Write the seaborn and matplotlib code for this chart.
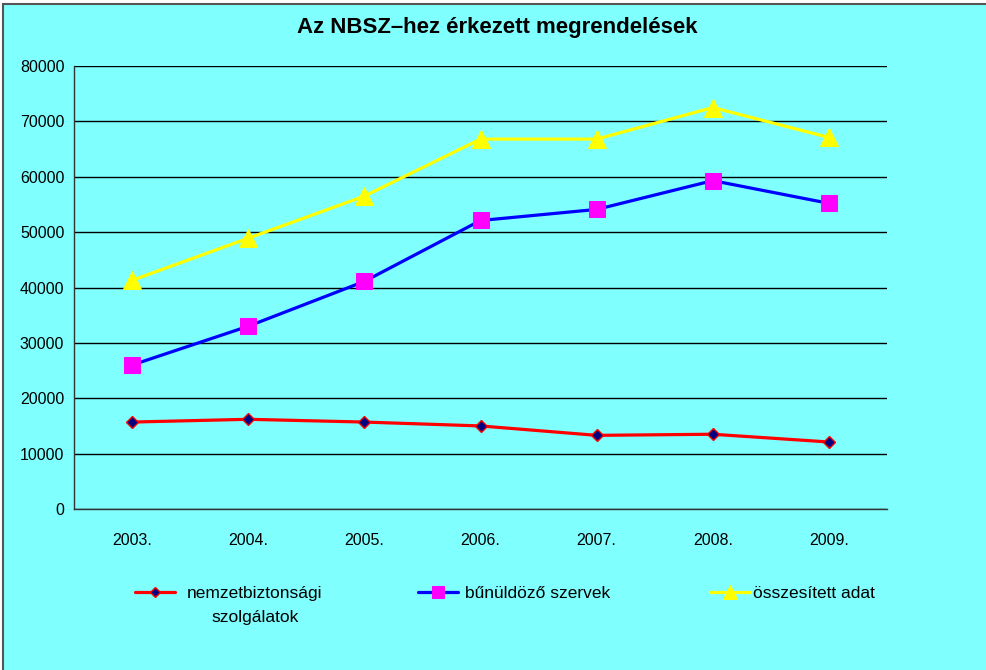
import pandas as pd
import seaborn as sns
import matplotlib.pyplot as plt
from matplotlib.patches import Rectangle

years = ['2003.', '2004.', '2005.', '2006.', '2007.', '2008.', '2009.']
nemzetbiztonsagi = [15700, 16200, 15700, 15000, 13300, 13500, 12100]
bunuldozo = [26000, 33000, 41100, 52100, 54100, 59300, 55200]
osszesitett = [41300, 48900, 56500, 66800, 66800, 72500, 67100]

series_names = ['nemzetbiztonsági', 'bűnüldöző szervek', 'összesített adat']

df = pd.DataFrame({
    'ev': years * 3,
    'ertek': nemzetbiztonsagi + bunuldozo + osszesitett,
    'sorozat': [series_names[0]] * 7 + [series_names[1]] * 7 + [series_names[2]] * 7,
})

sns.set_style('white')
plt.rcParams['font.family'] = ['Liberation Sans', 'DejaVu Sans']
plt.rcParams['text.color'] = 'black'
plt.rcParams['xtick.color'] = 'black'
plt.rcParams['ytick.color'] = 'black'

cyan = '#80FFFF'
fig = plt.figure(figsize=(9.87, 6.70), dpi=100, facecolor='white')
# chart area background with a grey frame (right/bottom edges cut off)
fig.patches.append(Rectangle((3 / 987, -0.02), 1.05, 1 - 4 / 670 + 0.02,
                             transform=fig.transFigure, facecolor=cyan,
                             edgecolor='#555555', linewidth=1.5, zorder=-10))

ax = fig.add_axes([74 / 987, 1 - 509 / 670, 813 / 987, 443 / 670])
ax.set_facecolor(cyan)

styles = {
    series_names[0]: dict(color='#FF0000', marker='D', markersize=6,
                          markerfacecolor='#000080', markeredgecolor='#FF0000', markeredgewidth=1),
    series_names[1]: dict(color='#0000FF', marker='s', markersize=11,
                          markerfacecolor='#FF00FF', markeredgecolor='#FF00FF'),
    series_names[2]: dict(color='#FFFF00', marker='^', markersize=13,
                          markerfacecolor='#FFFF00', markeredgecolor='#FFFF00'),
}

for name in series_names:
    sub = df[df['sorozat'] == name]
    sns.lineplot(data=sub, x='ev', y='ertek', ax=ax, linewidth=2.3, sort=False,
                 label=name, **styles[name])

handles, labels = ax.get_legend_handles_labels()
ax.legend_.remove()

ax.set_xlim(-0.5, 6.5)
ax.set_ylim(0, 80000)
ax.set_yticks(range(0, 80001, 10000))
ax.set_xticks(range(7))
ax.set_xticklabels(years)
ax.set_xticks([i + 0.5 for i in range(6)], minor=True)
ax.tick_params(axis='x', which='major', length=0, pad=17, labelsize=11.5)
ax.tick_params(axis='x', which='minor', length=5, width=1, direction='out', color='#333333')
ax.tick_params(axis='y', length=5, width=1, direction='out', color='#333333', labelsize=11.5, pad=2)
ax.grid(axis='y', color='black', linewidth=1)
ax.set_axisbelow(True)
ax.set_xlabel('')
ax.set_ylabel('')
for s in ['top', 'right']:
    ax.spines[s].set_visible(False)
for s in ['left', 'bottom']:
    ax.spines[s].set_color('#333333')
    ax.spines[s].set_linewidth(1)

fig.text(0.504, 1 - 28 / 670, 'Az NBSZ–hez érkezett megrendelések',
         ha='center', va='center', fontsize=16, fontweight='bold')

# one legend per entry, Excel-like slot positions
leg_x = [135, 418, 710]
leg_pad = [0.7, 0.4, 0.2]
legends = []
for h, lab, x, pad in zip(handles, labels, leg_x, leg_pad):
    lg = fig.legend([h], [lab], loc='center left', bbox_to_anchor=(x / 987, 1 - 593 / 670),
                    frameon=False, fontsize=12.5, handlelength=2.3, borderpad=0,
                    borderaxespad=0, handletextpad=pad, markerscale=0.8)
    legends.append(lg)

# second line of the first legend label
fig.canvas.draw()
t0 = legends[0].get_texts()[0]
bb = t0.get_window_extent().transformed(fig.transFigure.inverted())
fig.text((bb.x0 + bb.x1) / 2, bb.y0 - 0.014, 'szolgálatok', ha='center', va='top', fontsize=12.5)

fig.savefig('out.png', dpi=100, facecolor=fig.get_facecolor())
